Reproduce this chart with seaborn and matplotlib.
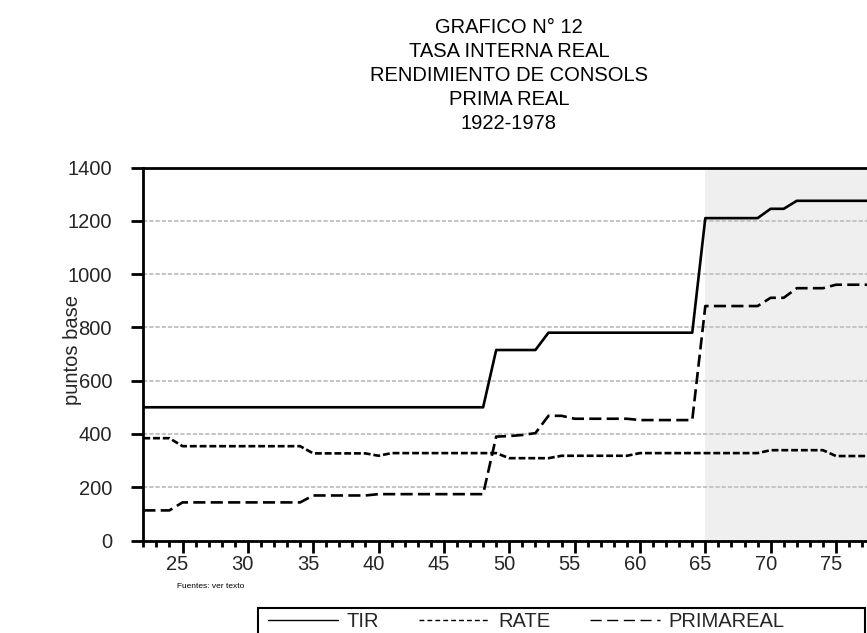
import matplotlib
matplotlib.use('Agg')
import matplotlib.pyplot as plt
from matplotlib.lines import Line2D
from matplotlib.patches import Rectangle
from matplotlib.ticker import MultipleLocator, FuncFormatter
import matplotlib.transforms as mtransforms

import pandas as pd
import seaborn as sns

# annual values, 1922-1978 (puntos base)
years = list(range(1922, 1979))
tir = [500, 500, 500, 500, 500, 500, 500, 500, 500, 500,
       500, 500, 500, 500, 500, 500, 500, 500, 500, 500,
       500, 500, 500, 500, 500, 500, 500,
       715, 715, 715, 715,
       780, 780, 780, 780, 780, 780, 780, 780, 780, 780, 780, 780,
       1210, 1210, 1210, 1210, 1210,
       1245, 1245,
       1275, 1275, 1275, 1275, 1275, 1275, 1275]
rate = [384, 384, 384,
        354, 354, 354, 354, 354, 354, 354, 354, 354, 354,
        327, 327, 327, 327, 327,
        318,
        328, 328, 328, 328, 328, 328, 328, 328, 328,
        309, 309, 309, 309,
        318, 318, 318, 318, 318, 318,
        328, 328, 328, 328, 328, 328, 328, 328, 328, 328,
        339, 339, 339, 339, 339,
        317, 317, 317, 317]
primareal = [113, 113, 113,
             143, 143, 143, 143, 143, 143, 143, 143, 143, 143,
             169, 169, 169, 169, 169,
             174, 174, 174, 174, 174, 174, 174, 174, 174,
             390, 392, 396, 403,
             468, 468,
             457, 457, 457, 457, 457,
             452, 452, 452, 452, 452,
             880, 880, 880, 880, 880,
             911, 911,
             947, 947, 947,
             960, 960, 960, 960]

series_names = ['TIR', 'RATE', 'PRIMAREAL']
title_lines = ['GRAFICO N° 12', 'TASA INTERNA REAL', 'RENDIMIENTO DE CONSOLS',
               'PRIMA REAL', '1922-1978']
shade_start = 1965
y_ticks = [0, 200, 400, 600, 800, 1000, 1200, 1400]

df = pd.DataFrame({
    'year': years * 3,
    'valor': tir + rate + primareal,
    'serie': [s for s in series_names for _ in years],
})

sns.set_theme(style='white')
plt.rcParams['font.family'] = ['Liberation Sans', 'DejaVu Sans']

W, H = 867, 633
fig = plt.figure(figsize=(W / 100, H / 100), dpi=100)
# axes box in pixels: left 143, top 167, bottom 540, 13.07 px per year
ax = fig.add_axes([143.3 / W, 1 - 540.5 / H, 57 * 13.07 / W, 373 / H])

plot_dashes = {'TIR': '', 'RATE': (2.6, 1.1), 'PRIMAREAL': (4.6, 2.0)}
sns.lineplot(data=df, x='year', y='valor', hue='serie', style='serie',
             palette={s: 'black' for s in series_names}, dashes=plot_dashes,
             linewidth=1.9, errorbar=None, legend=False, ax=ax, zorder=3)

ax.axvspan(shade_start, 1979, color='#efefef', zorder=0.2, lw=0)

ax.set_xlim(1922, 1979)
ax.set_ylim(0, 1400)
ax.set_yticks(y_ticks)
ax.xaxis.set_major_locator(MultipleLocator(5))
ax.xaxis.set_minor_locator(MultipleLocator(1))
ax.xaxis.set_major_formatter(FuncFormatter(lambda v, p: '%02d' % (int(v) % 100)))

ax.set_axisbelow(True)
ax.yaxis.grid(True, color='#c4c4c4', linestyle=(0, (2.2, 1.0)), lw=1.4)
ax.xaxis.grid(False)

for side in ['left', 'top', 'bottom']:
    ax.spines[side].set_color('black')
    ax.spines[side].set_linewidth(2)
ax.spines['right'].set_visible(False)

ax.tick_params(axis='x', which='major', direction='out', length=8.5, width=2,
               color='black', pad=2, labelsize=14.5, bottom=True)
ax.tick_params(axis='x', which='minor', direction='out', length=4.5, width=2,
               color='black', bottom=True)
ax.tick_params(axis='y', which='major', direction='out', length=8.5, width=2,
               color='black', pad=14, labelsize=14.5, left=True)

# year labels sit a little left of their ticks
shift = mtransforms.ScaledTranslation(-5 / 100, 0, fig.dpi_scale_trans)
for lab in ax.get_xticklabels():
    lab.set_transform(lab.get_transform() + shift)

ax.set_xlabel('')
ax.set_ylabel('puntos base', fontsize=14.5, va='center')
ax.yaxis.set_label_coords((72 - 143.3) / (57 * 13.07), (540.5 - 350) / 373)

for i, line in enumerate(title_lines):
    fig.text(509 / W, 1 - (33.3 + 23.9 * i) / H, line, ha='center',
             va='baseline', fontsize=14.5, color='black')

fig.text(177 / W, 1 - 586 / H, 'Fuentes: ver texto', fontsize=6,
         ha='left', va='center', color='black')

# legend (box runs past the bottom edge, as in the original)
legend_dashes = {'TIR': None, 'RATE': (3.5, 2.2), 'PRIMAREAL': (8, 4)}
handles = []
for s in series_names:
    h = Line2D([], [], color='black', lw=1.0)
    if legend_dashes[s] is not None:
        h.set_dashes(legend_dashes[s])
    handles.append(h)
fig.legend(handles, series_names, loc='upper left',
           bbox_to_anchor=(258 / W, 1 - 602 / H), ncol=3, frameon=False,
           fontsize=14.5, handlelength=3.45, handletextpad=0.45,
           columnspacing=2.0, borderpad=0.5, borderaxespad=0)
fig.patches.append(Rectangle((258 / W, 1 - 650 / H), (865 - 258) / W,
                             (650 - 607.7) / H, transform=fig.transFigure,
                             fill=False, edgecolor='black', lw=1.5))

fig.savefig('out.png', dpi=100)
